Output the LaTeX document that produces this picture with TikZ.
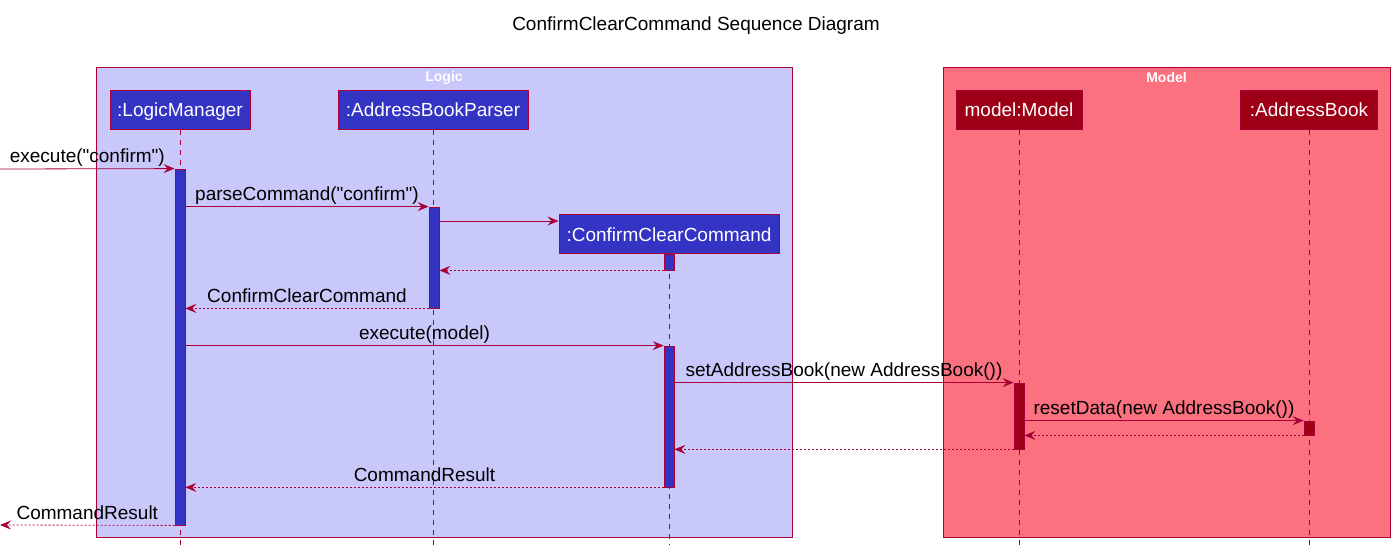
\documentclass[tikz,border=0pt]{standalone}
\usepackage{fontspec}
\setmainfont{Liberation Sans}[Ligatures=TeXOff]
\usepackage{xcolor}
\definecolor{umlred}{RGB}{168,0,54}
\definecolor{logicbg}{RGB}{200,200,250}
\definecolor{logicobj}{RGB}{51,51,196}
\definecolor{modelbg}{RGB}{251,113,128}
\definecolor{modelobj}{RGB}{157,0,22}
\usepackage{tikz}
\usetikzlibrary{positioning,arrows.meta,calc}

\begin{document}
\begin{tikzpicture}[x=1pt, y=-1pt]
        \tikzset{
          group/.style={draw=umlred, line width=0.8pt, inner sep=0pt},
          grouptitle/.style={text=white, font=\fontsize{14}{15}\selectfont\bfseries},
          actor/.style={draw=umlred, line width=1pt, text=white, minimum height=39pt,
                        inner xsep=2pt, text height=16pt, text depth=2pt,
                        font=\fontsize{19}{21}\selectfont},
          lifeline/.style={draw=umlred, line width=0.8pt, dash pattern=on 5pt off 5pt},
          actbar/.style={draw=umlred, line width=0.8pt, minimum width=10pt, inner sep=0pt},
          call/.style={draw=umlred, line width=0.8pt, -{Stealth[length=11pt,width=9pt,inset=4pt]}},
          reply/.style={call, dash pattern=on 2pt off 2pt},
          msg/.style={midway, above, text depth=3.5pt, inner sep=2pt, font=\fontsize{19}{21}\selectfont}
        }
        \useasboundingbox (0,0) rectangle (1395,549);
        % Title
        \node[font=\fontsize{19}{21}\selectfont] (title) at (696,26) {ConfirmClearCommand Sequence Diagram};
        % Groups
        \node[group, fill=logicbg, minimum width=696pt, minimum height=470pt] (logic) at (444,302) {};
        \node[group, fill=modelbg, minimum width=447pt, minimum height=470pt] (model) at (1166.5,302) {};
        \node[grouptitle] at ([yshift=-11pt]logic.north) {Logic};
        \node[grouptitle] at ([yshift=-11pt]model.north) {Model};
        % Participants
        \node[actor, fill=logicobj, minimum width=140pt] (lm) at (180,109.5) {:LogicManager};
        \node[actor, fill=logicobj, minimum width=190pt] (abp) at (433,109.5) {:AddressBookParser};
        \node[actor, fill=logicobj, minimum width=220pt] (ccc) at (669,234) {:ConfirmClearCommand};
        \node[actor, fill=modelobj, minimum width=126pt] (mdl) at (1019,109.5) {model:Model};
        \node[actor, fill=modelobj, minimum width=137pt] (ab) at (1309,109.5) {:AddressBook};
        % Lifelines
        \foreach \p in {lm,abp,ccc,mdl,ab} {
          \draw[lifeline] (\p.south) -- (\p.south |- 0,545);
        }
        % Activations
        \node[actbar, fill=logicobj, minimum height=356pt] (lmA) at (180,347) {};
        \node[actbar, fill=logicobj, minimum height=101pt] (abpA) at (434,257.5) {};
        \node[actbar, fill=logicobj, minimum height=16pt] (cccA) at (669,262) {};
        \node[actbar, fill=logicobj, minimum height=141pt] (cccB) at (669,416.5) {};
        \node[actbar, fill=modelobj, minimum height=66pt] (mdlA) at (1019,416) {};
        \node[actbar, fill=modelobj, minimum height=14pt] (abA) at (1309,428) {};
        % Messages
        \coordinate (entry) at (0,169);
        \coordinate (exit) at (0,525);
        \draw[call] (entry) -- (lmA.north west) node[msg] {execute("confirm")};
        \draw[call] (lmA.east |- abpA.north) -- (abpA.north west) node[msg] {parseCommand("confirm")};
        \draw[call] (abpA.east |- 0,221) -- (ccc.west |- 0,221);
        \draw[reply] (cccA.south west) -- (abpA.east |- cccA.south);
        \draw[reply] (abpA.south west) -- (lmA.east |- abpA.south) node[msg] {ConfirmClearCommand};
        \draw[call] (lmA.east |- cccB.north) -- (cccB.north west) node[msg] {execute(model)};
        \draw[call] (cccB.east |- mdlA.north) -- (mdlA.north west) node[msg] {setAddressBook(new AddressBook())};
        \draw[call] (mdlA.east |- abA.north) -- (abA.north west) node[msg] {resetData(new AddressBook())};
        \draw[reply] (abA.south west) -- (mdlA.east |- abA.south);
        \draw[reply] (mdlA.south west) -- (cccB.east |- mdlA.south);
        \draw[reply] (cccB.south west) -- (lmA.east |- cccB.south) node[msg] {CommandResult};
        \draw[reply] (lmA.south west) -- (exit) node[msg] {CommandResult};
\end{tikzpicture}
\end{document}
